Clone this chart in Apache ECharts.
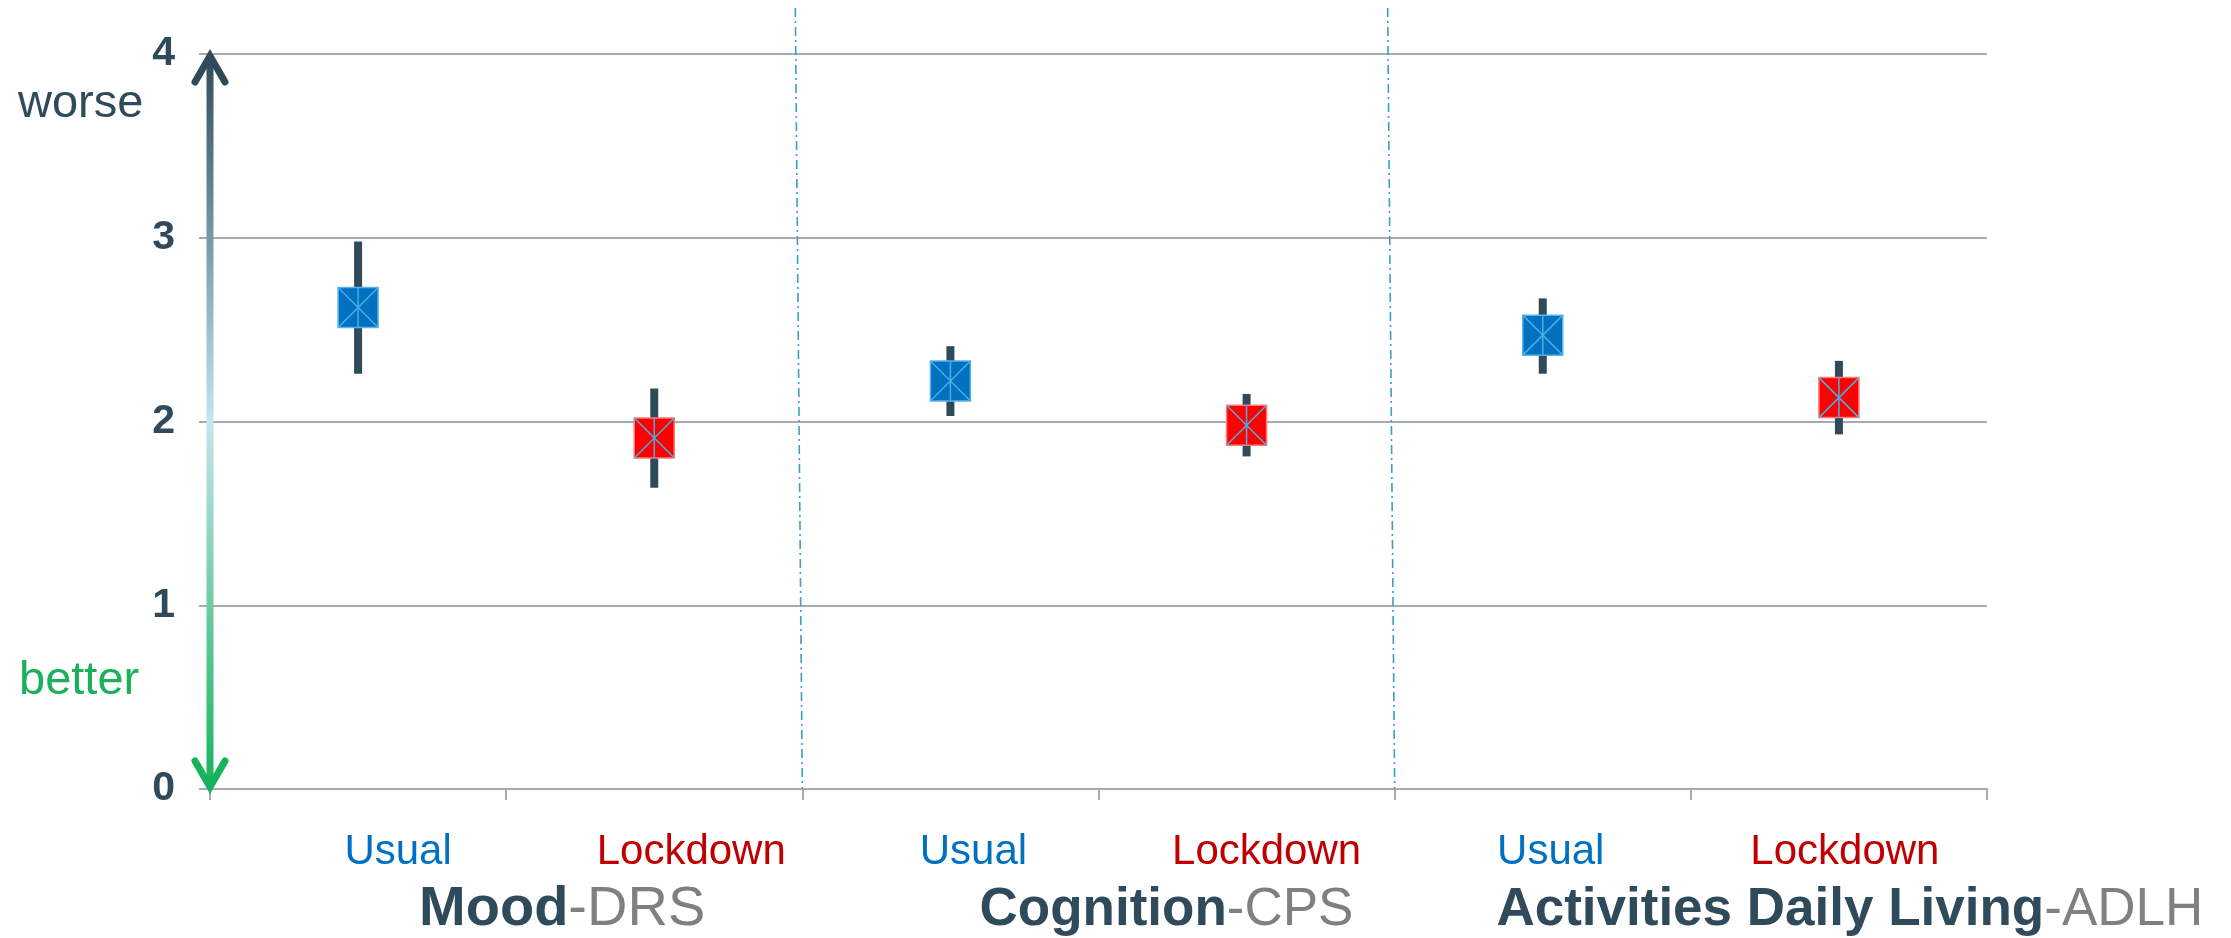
<!DOCTYPE html>
<html>
<head>
<meta charset="utf-8">
<script src="https://cdn.jsdelivr.net/npm/echarts@6/dist/echarts.min.js"></script>
<style>
html,body{margin:0;padding:0;background:#fff;}
#chart{width:2231px;height:938px;}
</style>
</head>
<body>
<div id="chart"></div>
<script>
// ---- data ----
const categories = ['Usual', 'Lockdown', 'Usual', 'Lockdown', 'Usual', 'Lockdown'];
const groupNames = ['Mood', 'Cognition', 'Activities Daily Living'];
const groupCodes = ['DRS', 'CPS', 'ADLH'];
const meanValues = [2.62, 1.91, 2.22, 1.98, 2.47, 2.13];
const lowValues  = [2.26, 1.64, 2.03, 1.81, 2.26, 1.93];
const highValues = [2.98, 2.18, 2.41, 2.15, 2.67, 2.33];
const yTickValues = [0, 1, 2, 3, 4];
const upLabel = 'worse';
const downLabel = 'better';

// ---- layout / style constants ----
const FONT = "'Liberation Sans', Arial, sans-serif";
const DARK = '#2f4b5b';
const GRID_COLOR = '#a6abb0';
const labelShift = [40, 37, 23, 20, 8, 6];
const groupShift = [56, 68, 159];
const groupFont = [56, 53, 53];
const catColor = c => (c === 'Usual' ? '#0070C0' : '#C00000');
const boxColor = c => (c === 'Usual' ? '#0070C0' : '#FF0000');
const boxBorder = c => (c === 'Usual' ? '#5ab4ea' : '#ff7a7a');

const chart = echarts.init(document.getElementById('chart'), null, { renderer: 'canvas' });

const seriesData = categories.map((c, i) => [i, lowValues[i], meanValues[i], highValues[i]]);

function renderItem(params, api) {
  const idx = api.value(0);
  const lo = api.coord([idx, api.value(1)]);
  const mid = api.coord([idx, api.value(2)]);
  const hi = api.coord([idx, api.value(3)]);
  const c = categories[idx];
  const ww = 8, bs = 40, h = bs / 2;
  const cx = mid[0], cy = mid[1];
  const inner = '#4aaee4';
  return {
    type: 'group',
    children: [
      { type: 'rect', shape: { x: cx - ww / 2, y: hi[1], width: ww, height: lo[1] - hi[1] }, style: { fill: DARK } },
      { type: 'rect', shape: { x: cx - h, y: cy - h, width: bs, height: bs }, style: { fill: boxColor(c), stroke: boxBorder(c), lineWidth: 1.5 } },
      { type: 'line', shape: { x1: cx - h, y1: cy - h, x2: cx + h, y2: cy + h }, style: { stroke: inner, lineWidth: 1.5 } },
      { type: 'line', shape: { x1: cx + h, y1: cy - h, x2: cx - h, y2: cy + h }, style: { stroke: inner, lineWidth: 1.5 } },
      { type: 'line', shape: { x1: cx, y1: cy - h, x2: cx, y2: cy + h }, style: { stroke: inner, lineWidth: 1.5 } }
    ]
  };
}

const option = {
  animation: false,
  backgroundColor: '#ffffff',
  textStyle: { fontFamily: FONT },
  grid: { left: 210, right: 244, top: 54, bottom: 148, containLabel: false },
  xAxis: [
    {
      type: 'category',
      data: categories.map((c, i) => ({
        value: c,
        textStyle: { color: catColor(c), padding: [0, 0, 0, labelShift[i] * 2] }
      })),
      boundaryGap: true,
      axisLine: { show: true, lineStyle: { color: GRID_COLOR, width: 2 } },
      axisTick: { show: true, length: 11, lineStyle: { color: GRID_COLOR, width: 2 } },
      axisLabel: { interval: 0, margin: 42, fontSize: 42, lineHeight: 42, fontFamily: FONT },
      splitLine: { show: false }
    },
    {
      type: 'category',
      data: groupNames.map((g, i) => ({
        value: g,
        textStyle: { padding: [0, 0, 0, groupShift[i] * 2] }
      })),
      position: 'bottom',
      boundaryGap: true,
      axisLine: { show: false },
      axisTick: { show: false },
      splitLine: { show: false },
      axisLabel: {
        interval: 0,
        margin: 93,
        formatter: (v, i) => '{b' + i + '|' + v + '}{g' + i + '|-' + groupCodes[i] + '}',
        rich: Object.assign({}, ...groupFont.map((fs, i) => ({
          ['b' + i]: { fontSize: fs, fontWeight: 'bold', color: DARK, fontFamily: FONT, lineHeight: 56 },
          ['g' + i]: { fontSize: fs, color: '#808080', fontFamily: FONT, lineHeight: 56 }
        })))
      }
    }
  ],
  yAxis: {
    type: 'value',
    min: yTickValues[0],
    max: yTickValues[yTickValues.length - 1],
    interval: 1,
    axisLine: { show: false },
    axisTick: { show: true, length: 11, lineStyle: { color: GRID_COLOR, width: 2 } },
    axisLabel: { margin: 35, fontSize: 41, fontWeight: 'bold', color: DARK, fontFamily: FONT },
    splitLine: { show: true, lineStyle: { color: GRID_COLOR, width: 2 } }
  },
  series: [
    {
      type: 'custom',
      xAxisIndex: 0,
      yAxisIndex: 0,
      renderItem: renderItem,
      data: seriesData,
      z: 5
    }
  ]
};

chart.setOption(option);

// ---- decorations computed from the axes ----
const yTop = chart.convertToPixel({ yAxisIndex: 0 }, yTickValues[yTickValues.length - 1]);
const yBot = chart.convertToPixel({ yAxisIndex: 0 }, yTickValues[0]);
const c0 = chart.convertToPixel({ xAxisIndex: 0 }, 0);
const c1 = chart.convertToPixel({ xAxisIndex: 0 }, 1);
const step = c1 - c0;
const axisX = c0 - step / 2;
const sepBottom1 = c0 + step * 1.5;
const sepBottom2 = c0 + step * 3.5;

const sepStyle = { stroke: '#3a9fc9', lineWidth: 1.6, lineDash: [9, 4, 2, 4] };

chart.setOption({
  graphic: [
    { type: 'line', z: 1, shape: { x1: sepBottom1 - 7, y1: 8, x2: sepBottom1, y2: yBot }, style: sepStyle },
    { type: 'line', z: 1, shape: { x1: sepBottom2 - 7, y1: 8, x2: sepBottom2, y2: yBot }, style: sepStyle },
    {
      type: 'line', z: 10,
      shape: { x1: axisX, y1: yTop + 3, x2: axisX, y2: yBot - 3 },
      style: {
        lineWidth: 7,
        stroke: new echarts.graphic.LinearGradient(0, yTop, 0, yBot, [
          { offset: 0, color: '#2f4a5a' },
          { offset: 0.5, color: '#c6e4ef' },
          { offset: 1, color: '#16b35a' }
        ], true)
      }
    },
    {
      type: 'polyline', z: 11,
      shape: { points: [[axisX - 15, yTop + 28], [axisX, yTop + 2], [axisX + 15, yTop + 28]] },
      style: { stroke: '#2f4a5a', lineWidth: 7, lineCap: 'round', lineJoin: 'miter', fill: null }
    },
    {
      type: 'polyline', z: 11,
      shape: { points: [[axisX - 15, yBot - 28], [axisX, yBot - 2], [axisX + 15, yBot - 28]] },
      style: { stroke: '#16b35a', lineWidth: 7, lineCap: 'round', lineJoin: 'miter', fill: null }
    },
    {
      type: 'text', z: 12, x: 18, y: 104,
      style: { text: upLabel, fill: DARK, font: '47px ' + FONT, verticalAlign: 'middle', align: 'left' }
    },
    {
      type: 'text', z: 12, x: 19, y: 681,
      style: { text: downLabel, fill: '#1bb05a', font: '47px ' + FONT, verticalAlign: 'middle', align: 'left' }
    }
  ]
});
</script>
</body>
</html>
